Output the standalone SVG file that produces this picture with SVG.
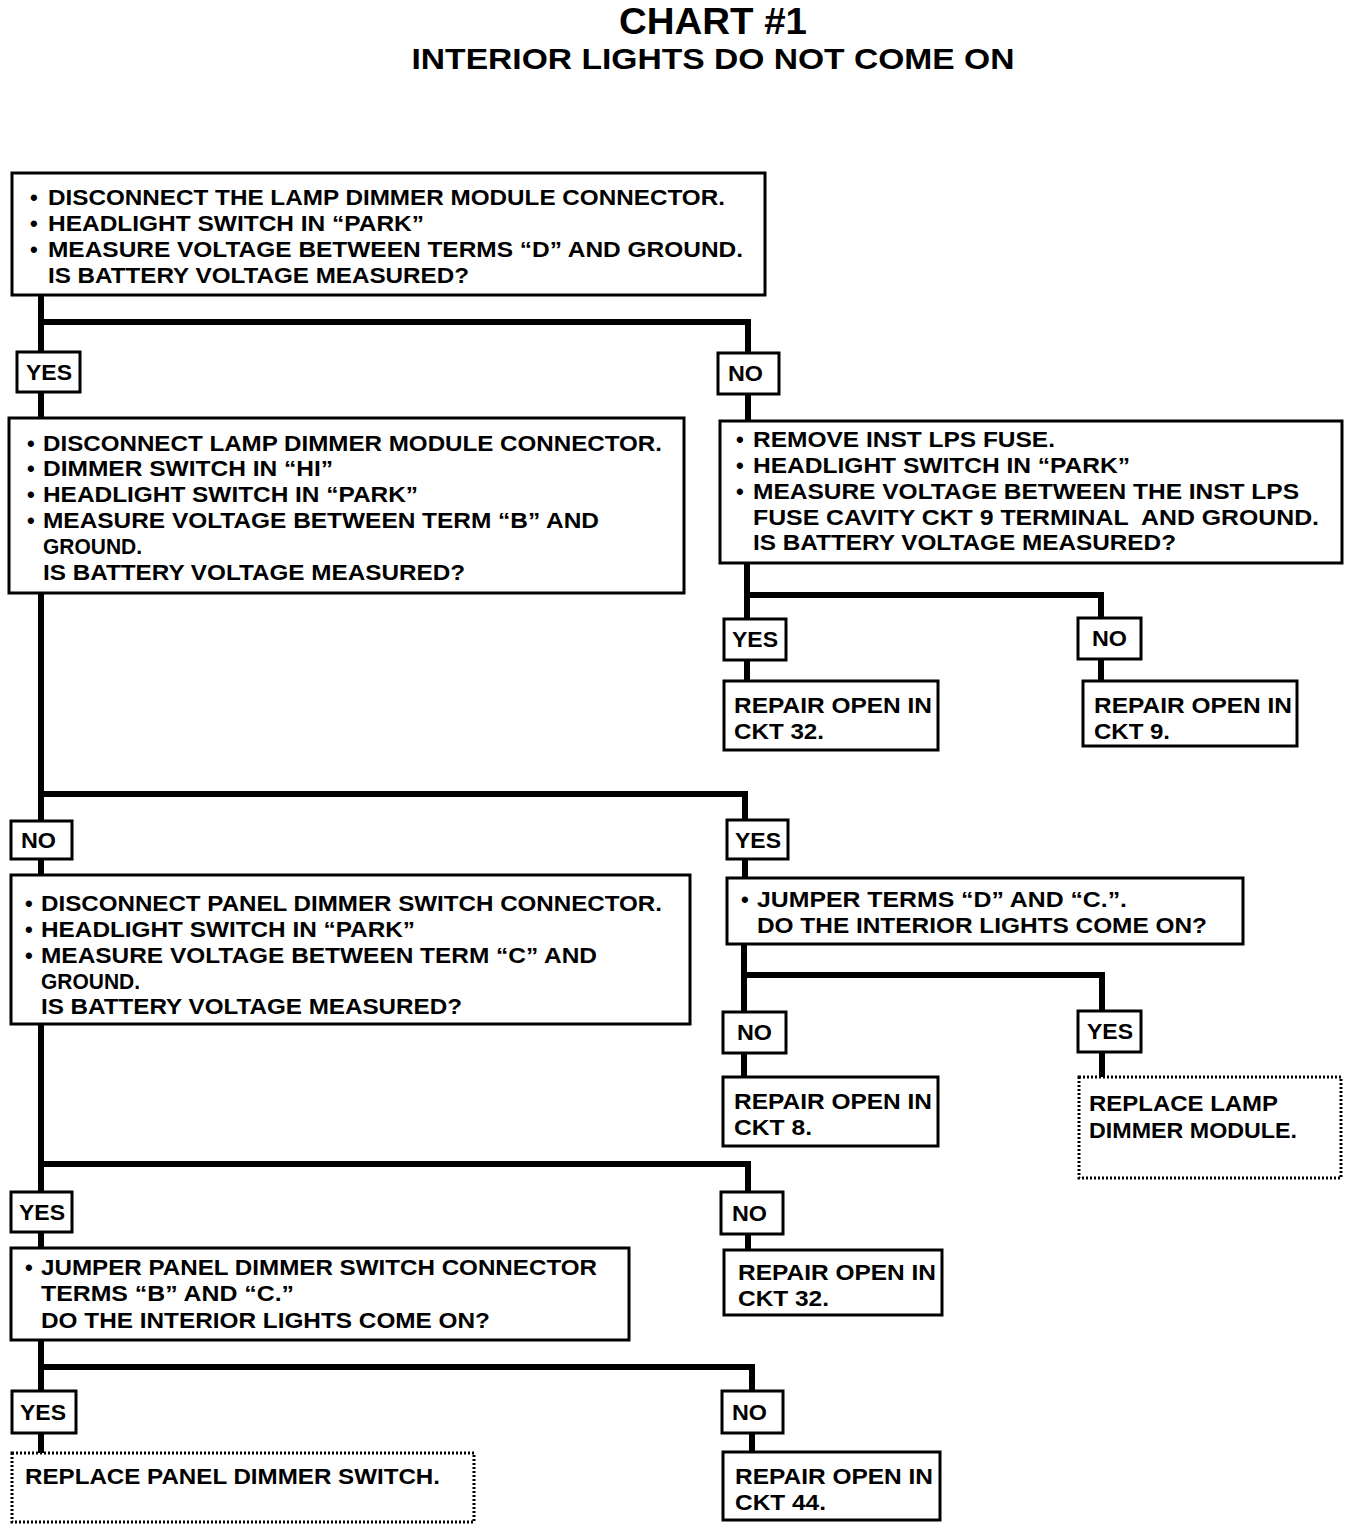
<svg xmlns="http://www.w3.org/2000/svg" width="1360" height="1532" viewBox="0 0 1360 1532">
<style>
.t{font-family:"Liberation Sans",Arial,sans-serif;font-weight:bold;font-size:22px;fill:#000}
.ti{font-family:"Liberation Sans",Arial,sans-serif;font-weight:bold;fill:#000;text-anchor:middle}
.b{fill:#fff;stroke:#000;stroke-width:3}
.d{fill:#fff;stroke:#000;stroke-width:3;stroke-dasharray:2 2}
.c{fill:none;stroke:#000;stroke-width:6;stroke-linejoin:miter;stroke-linecap:square}
</style>
<rect width="1360" height="1532" fill="#fff"/>
<g id="title">
<text class="ti" x="713" y="34" font-size="37" textLength="188" lengthAdjust="spacingAndGlyphs">CHART #1</text>
<text class="ti" x="713" y="69" font-size="30" textLength="603" lengthAdjust="spacingAndGlyphs">INTERIOR LIGHTS DO NOT COME ON</text>
</g>
<g id="connectors">
<path class="c" d="M41 295 V1453"/>
<path class="c" d="M41 322 H748 V421"/>
<path class="c" d="M747 563 V681 M747 595 H1101 V681"/>
<path class="c" d="M41 794 H745 V878"/>
<path class="c" d="M744 944 V1077 M744 975 H1102 V1077"/>
<path class="c" d="M41 1164 H748 V1250"/>
<path class="c" d="M41 1367 H752 V1452"/>
</g>
<g id="n1">
<rect class="b" x="12" y="173" width="753" height="122"/>
<text class="t" x="30" y="205">•</text><text class="t" x="48" y="205" textLength="677" lengthAdjust="spacingAndGlyphs">DISCONNECT THE LAMP DIMMER MODULE CONNECTOR.</text>
<text class="t" x="30" y="231">•</text><text class="t" x="48" y="231" textLength="376" lengthAdjust="spacingAndGlyphs">HEADLIGHT SWITCH IN “PARK”</text>
<text class="t" x="30" y="257">•</text><text class="t" x="48" y="257" textLength="695" lengthAdjust="spacingAndGlyphs">MEASURE VOLTAGE BETWEEN TERMS “D” AND GROUND.</text>
<text class="t" x="48" y="283" textLength="421" lengthAdjust="spacingAndGlyphs">IS BATTERY VOLTAGE MEASURED?</text>
</g>
<g id="l1y"><rect class="b" x="17" y="352" width="63" height="40"/><text class="t" x="26" y="380" textLength="46" lengthAdjust="spacingAndGlyphs">YES</text></g>
<g id="l1n"><rect class="b" x="718" y="353" width="61" height="41"/><text class="t" x="728" y="381" textLength="35" lengthAdjust="spacingAndGlyphs">NO</text></g>
<g id="n2">
<rect class="b" x="9" y="418" width="675" height="175"/>
<text class="t" x="27" y="451">•</text><text class="t" x="43" y="451" textLength="619" lengthAdjust="spacingAndGlyphs">DISCONNECT LAMP DIMMER MODULE CONNECTOR.</text>
<text class="t" x="27" y="476">•</text><text class="t" x="43" y="476" textLength="290" lengthAdjust="spacingAndGlyphs">DIMMER SWITCH IN “HI”</text>
<text class="t" x="27" y="502">•</text><text class="t" x="43" y="502" textLength="375" lengthAdjust="spacingAndGlyphs">HEADLIGHT SWITCH IN “PARK”</text>
<text class="t" x="27" y="528">•</text><text class="t" x="43" y="528" textLength="556" lengthAdjust="spacingAndGlyphs">MEASURE VOLTAGE BETWEEN TERM “B” AND</text>
<text class="t" x="43" y="554" textLength="99" lengthAdjust="spacingAndGlyphs">GROUND.</text>
<text class="t" x="43" y="580" textLength="422" lengthAdjust="spacingAndGlyphs">IS BATTERY VOLTAGE MEASURED?</text>
</g>
<g id="n3">
<rect class="b" x="720" y="421" width="622" height="142"/>
<text class="t" x="736" y="447">•</text><text class="t" x="753" y="447" textLength="302" lengthAdjust="spacingAndGlyphs">REMOVE INST LPS FUSE.</text>
<text class="t" x="736" y="473">•</text><text class="t" x="753" y="473" textLength="377" lengthAdjust="spacingAndGlyphs">HEADLIGHT SWITCH IN “PARK”</text>
<text class="t" x="736" y="499">•</text><text class="t" x="753" y="499" textLength="546" lengthAdjust="spacingAndGlyphs">MEASURE VOLTAGE BETWEEN THE INST LPS</text>
<text class="t" x="753" y="525" textLength="566" lengthAdjust="spacingAndGlyphs" xml:space="preserve">FUSE CAVITY CKT 9 TERMINAL  AND GROUND.</text>
<text class="t" x="753" y="550" textLength="423" lengthAdjust="spacingAndGlyphs">IS BATTERY VOLTAGE MEASURED?</text>
</g>
<g id="l3y"><rect class="b" x="724" y="619" width="62" height="41"/><text class="t" x="732" y="647" textLength="46" lengthAdjust="spacingAndGlyphs">YES</text></g>
<g id="l3n"><rect class="b" x="1078" y="618" width="63" height="41"/><text class="t" x="1092" y="646" textLength="35" lengthAdjust="spacingAndGlyphs">NO</text></g>
<g id="n4">
<rect class="b" x="724" y="681" width="214" height="69"/>
<text class="t" x="734" y="713" textLength="198" lengthAdjust="spacingAndGlyphs">REPAIR OPEN IN</text>
<text class="t" x="734" y="739" textLength="90" lengthAdjust="spacingAndGlyphs">CKT 32.</text>
</g>
<g id="n5">
<rect class="b" x="1083" y="681" width="214" height="65"/>
<text class="t" x="1094" y="713" textLength="198" lengthAdjust="spacingAndGlyphs">REPAIR OPEN IN</text>
<text class="t" x="1094" y="739" textLength="76" lengthAdjust="spacingAndGlyphs">CKT 9.</text>
</g>
<g id="l2n"><rect class="b" x="11" y="821" width="61" height="38"/><text class="t" x="21" y="848" textLength="35" lengthAdjust="spacingAndGlyphs">NO</text></g>
<g id="l2y"><rect class="b" x="727" y="820" width="61" height="39"/><text class="t" x="735" y="848" textLength="46" lengthAdjust="spacingAndGlyphs">YES</text></g>
<g id="n6">
<rect class="b" x="11" y="875" width="679" height="149"/>
<text class="t" x="25" y="911">•</text><text class="t" x="41" y="911" textLength="621" lengthAdjust="spacingAndGlyphs">DISCONNECT PANEL DIMMER SWITCH CONNECTOR.</text>
<text class="t" x="25" y="937">•</text><text class="t" x="41" y="937" textLength="374" lengthAdjust="spacingAndGlyphs">HEADLIGHT SWITCH IN “PARK”</text>
<text class="t" x="25" y="963">•</text><text class="t" x="41" y="963" textLength="556" lengthAdjust="spacingAndGlyphs">MEASURE VOLTAGE BETWEEN TERM “C” AND</text>
<text class="t" x="41" y="989" textLength="99" lengthAdjust="spacingAndGlyphs">GROUND.</text>
<text class="t" x="41" y="1014" textLength="421" lengthAdjust="spacingAndGlyphs">IS BATTERY VOLTAGE MEASURED?</text>
</g>
<g id="n7">
<rect class="b" x="727" y="878" width="516" height="66"/>
<text class="t" x="741" y="907">•</text><text class="t" x="757" y="907" textLength="370" lengthAdjust="spacingAndGlyphs">JUMPER TERMS “D” AND “C.”.</text>
<text class="t" x="757" y="933" textLength="450" lengthAdjust="spacingAndGlyphs">DO THE INTERIOR LIGHTS COME ON?</text>
</g>
<g id="l7n"><rect class="b" x="723" y="1012" width="63" height="41"/><text class="t" x="737" y="1040" textLength="35" lengthAdjust="spacingAndGlyphs">NO</text></g>
<g id="l7y"><rect class="b" x="1078" y="1011" width="63" height="41"/><text class="t" x="1087" y="1039" textLength="46" lengthAdjust="spacingAndGlyphs">YES</text></g>
<g id="n8">
<rect class="b" x="723" y="1077" width="215" height="69"/>
<text class="t" x="734" y="1109" textLength="198" lengthAdjust="spacingAndGlyphs">REPAIR OPEN IN</text>
<text class="t" x="734" y="1135" textLength="78" lengthAdjust="spacingAndGlyphs">CKT 8.</text>
</g>
<g id="n9">
<rect class="d" x="1079" y="1077" width="262" height="101"/>
<text class="t" x="1089" y="1111" textLength="189" lengthAdjust="spacingAndGlyphs">REPLACE LAMP</text>
<text class="t" x="1089" y="1138" textLength="208" lengthAdjust="spacingAndGlyphs">DIMMER MODULE.</text>
</g>
<g id="l6y"><rect class="b" x="11" y="1192" width="61" height="40"/><text class="t" x="19" y="1220" textLength="46" lengthAdjust="spacingAndGlyphs">YES</text></g>
<g id="l6n"><rect class="b" x="721" y="1192" width="62" height="42"/><text class="t" x="732" y="1221" textLength="35" lengthAdjust="spacingAndGlyphs">NO</text></g>
<g id="n10">
<rect class="b" x="11" y="1248" width="618" height="92"/>
<text class="t" x="25" y="1275">•</text><text class="t" x="41" y="1275" textLength="556" lengthAdjust="spacingAndGlyphs">JUMPER PANEL DIMMER SWITCH CONNECTOR</text>
<text class="t" x="41" y="1301" textLength="253" lengthAdjust="spacingAndGlyphs">TERMS “B” AND “C.”</text>
<text class="t" x="41" y="1328" textLength="449" lengthAdjust="spacingAndGlyphs">DO THE INTERIOR LIGHTS COME ON?</text>
</g>
<g id="n11">
<rect class="b" x="724" y="1250" width="218" height="65"/>
<text class="t" x="738" y="1280" textLength="198" lengthAdjust="spacingAndGlyphs">REPAIR OPEN IN</text>
<text class="t" x="738" y="1306" textLength="91" lengthAdjust="spacingAndGlyphs">CKT 32.</text>
</g>
<g id="l10y"><rect class="b" x="12" y="1391" width="64" height="42"/><text class="t" x="20" y="1420" textLength="46" lengthAdjust="spacingAndGlyphs">YES</text></g>
<g id="l10n"><rect class="b" x="722" y="1391" width="61" height="42"/><text class="t" x="732" y="1420" textLength="35" lengthAdjust="spacingAndGlyphs">NO</text></g>
<g id="n12">
<rect class="d" x="12" y="1453" width="462" height="69"/>
<text class="t" x="25" y="1484" textLength="415" lengthAdjust="spacingAndGlyphs">REPLACE PANEL DIMMER SWITCH.</text>
</g>
<g id="n13">
<rect class="b" x="723" y="1452" width="217" height="68"/>
<text class="t" x="735" y="1484" textLength="198" lengthAdjust="spacingAndGlyphs">REPAIR OPEN IN</text>
<text class="t" x="735" y="1510" textLength="91" lengthAdjust="spacingAndGlyphs">CKT 44.</text>
</g>
</svg>
